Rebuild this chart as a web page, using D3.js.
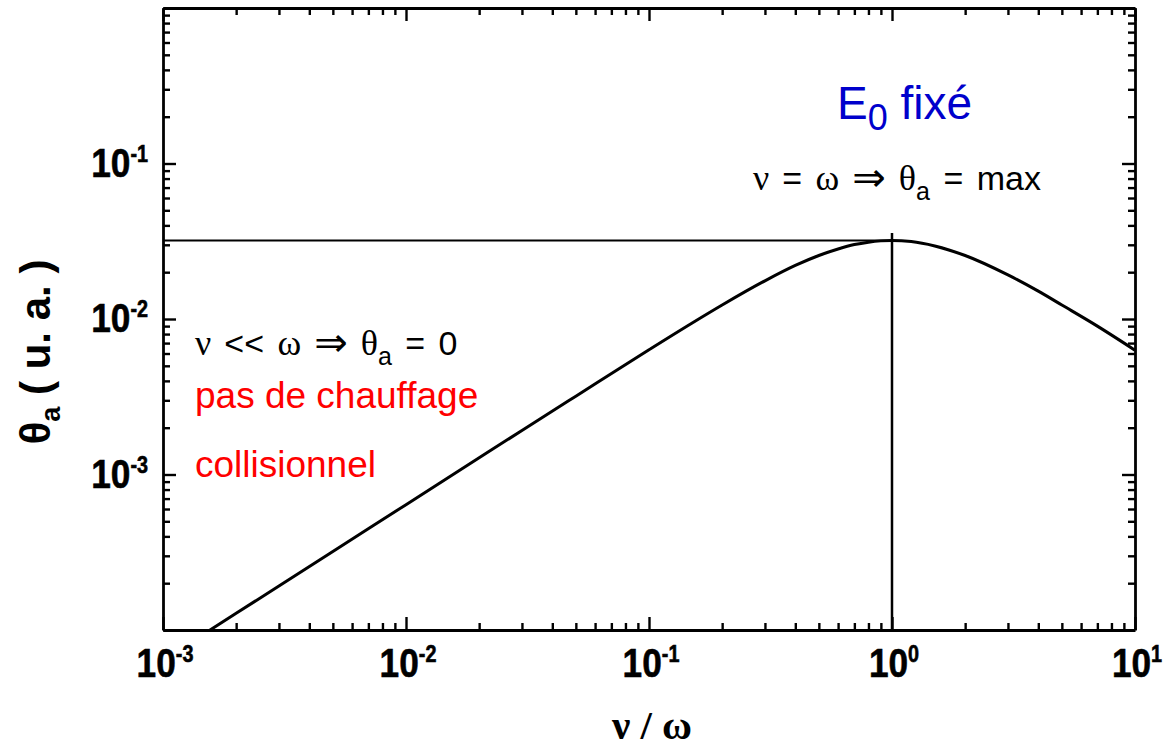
<!DOCTYPE html>
<html>
<head>
<meta charset="utf-8">
<script src="https://cdn.jsdelivr.net/npm/d3@7/dist/d3.min.js"></script>
<style>
  body { margin: 0; background: #fff; }
  svg text { font-family: "Liberation Sans", Arial, sans-serif; }
  .greek { font-family: "Liberation Serif", "DejaVu Serif", serif; }
  .arrow { font-family: "DejaVu Sans", sans-serif; }
</style>
</head>
<body>
<div class="chart"></div>
<script>
// curve (nu/omega, theta_a)
const nuOverOmega = [0.0015, 0.002, 0.003, 0.005, 0.01, 0.02, 0.03, 0.05, 0.1, 0.15, 0.2, 0.3, 0.4, 0.5,
  0.6, 0.7, 0.8, 0.9, 1, 1.2, 1.5, 2, 3, 4, 5, 7, 10];
const thetaA = [0.000096, 0.000128, 0.000192, 0.00032, 0.00064, 0.00128, 0.00192, 0.00319, 0.00634, 0.00939,
  0.0123, 0.0176, 0.0221, 0.0256, 0.0282, 0.0301, 0.0312, 0.0318, 0.032, 0.0315, 0.0295, 0.0256, 0.0192,
  0.0151, 0.0123, 0.0090, 0.0063];
// reference lines at the maximum
const peakNu = 1;
const peakTheta = 0.032;
const peakLineTop = 0.0357;
// axes
const xDomain = [1e-3, 10];
const yDomain = [1e-4, 1];
const xExponents = [-3, -2, -1, 0, 1];
const yExponents = [-3, -2, -1];

const width = 1166, height = 747;
const margin = { top: 8, right: 31, bottom: 117, left: 163 };
const plotW = width - margin.left - margin.right;
const plotH = height - margin.top - margin.bottom;

const svg = d3.select('.chart').append('svg')
  .attr('width', width).attr('height', height);
const g = svg.append('g').attr('transform', `translate(${margin.left},${margin.top})`);

const x = d3.scaleLog().domain(xDomain).range([0, plotW]);
const y = d3.scaleLog().domain(yDomain).range([plotH, 0]);

const isMajor = d => Math.abs(Math.log10(d) - Math.round(Math.log10(d))) < 1e-6;
const majorLen = 13, minorLen = 7;

// curve, clipped to the frame
g.append('clipPath').attr('id', 'plotclip')
  .append('rect').attr('width', plotW).attr('height', plotH);

const curveData = nuOverOmega.map((v, i) => ({ x: v, y: thetaA[i] }));
const line = d3.line().x(d => x(d.x)).y(d => y(d.y)).curve(d3.curveMonotoneX);
g.append('path').datum(curveData)
  .attr('clip-path', 'url(#plotclip)')
  .attr('d', line)
  .attr('fill', 'none').attr('stroke', '#000').attr('stroke-width', 3);

// maximum markers
g.append('line')
  .attr('x1', x(xDomain[0])).attr('x2', x(peakNu))
  .attr('y1', y(peakTheta)).attr('y2', y(peakTheta))
  .attr('stroke', '#000').attr('stroke-width', 2);
g.append('line')
  .attr('x1', x(peakNu)).attr('x2', x(peakNu))
  .attr('y1', y(yDomain[0])).attr('y2', y(peakLineTop))
  .attr('stroke', '#000').attr('stroke-width', 2.5);

// frame with inward ticks on every side
function styleAxis(sel, attr, sign) {
  sel.select('.domain').attr('stroke-width', 2.8);
  sel.selectAll('.tick line')
    .attr('stroke-width', 2.4)
    .attr(attr, d => sign * (isMajor(d) ? majorLen : minorLen));
  sel.selectAll('.tick text').remove();
}
const xTicks = x.ticks();
const yTicks = y.ticks();
g.append('g').attr('transform', `translate(0,${plotH})`)
  .call(d3.axisBottom(x).tickValues(xTicks).tickSizeOuter(0))
  .call(s => styleAxis(s, 'y2', -1));
g.append('g')
  .call(d3.axisTop(x).tickValues(xTicks).tickSizeOuter(0))
  .call(s => styleAxis(s, 'y2', 1));
g.append('g')
  .call(d3.axisLeft(y).tickValues(yTicks).tickSizeOuter(0))
  .call(s => styleAxis(s, 'x2', 1));
g.append('g').attr('transform', `translate(${plotW},0)`)
  .call(d3.axisRight(y).tickValues(yTicks).tickSizeOuter(0))
  .call(s => styleAxis(s, 'x2', -1));

// power-of-ten tick labels (bold, slightly condensed)
function powerLabel(parent, px, py, exp, anchor) {
  const t = parent.append('g').attr('transform', `translate(${px},${py}) scale(0.86,1)`)
    .append('text')
    .attr('text-anchor', anchor)
    .attr('font-weight', 'bold').attr('font-size', 41)
    .attr('stroke', '#000').attr('stroke-width', 0.6);
  t.append('tspan').text('10');
  t.append('tspan').attr('font-size', 23).attr('dy', -15).text(exp);
}
xExponents.forEach(e => powerLabel(g, x(Math.pow(10, e)) + 2, plotH + 47, e, 'middle'));
yExponents.forEach(e => powerLabel(g, -15, y(Math.pow(10, e)) + 13, e, 'end'));

// axis titles
svg.append('text')
  .attr('class', 'greek')
  .attr('x', 652).attr('y', 739)
  .attr('text-anchor', 'middle')
  .attr('font-weight', 'bold').attr('font-size', 41)
  .text('ν / ω');

const yTitle = svg.append('text')
  .attr('transform', 'translate(50,352) rotate(-90)')
  .attr('text-anchor', 'middle')
  .attr('font-weight', 'bold').attr('font-size', 42);
yTitle.append('tspan').text('θ');
yTitle.append('tspan').attr('font-size', 27).attr('dy', 10).text('a');
yTitle.append('tspan').attr('dy', -10).text('\u00a0( u. a. )');

// annotations
const ann = g.append('g');
const eTitle = ann.append('text')
  .attr('x', 837 - margin.left).attr('y', 119 - margin.top)
  .attr('fill', '#0000cc').attr('font-size', 46);
eTitle.append('tspan').text('E');
eTitle.append('tspan').attr('font-size', 36).attr('dy', 11).text('0');
eTitle.append('tspan').attr('dy', -11).text(' fixé');

function relation(px, py, lhs, rhs) {
  const t = ann.append('text').attr('x', px - margin.left).attr('y', py - margin.top)
    .attr('font-size', 34).attr('fill', '#000').attr('word-spacing', 4);
  t.append('tspan').attr('class', 'greek').attr('font-size', 36).text('ν ');
  t.append('tspan').text(lhs + ' ');
  t.append('tspan').attr('class', 'greek').attr('font-size', 36).text('ω ');
  t.append('tspan').attr('class', 'arrow').attr('font-size', 40).attr('dy', 1).text('⇒');
  t.append('tspan').attr('class', 'greek').attr('font-size', 36).attr('dy', -1).text(' θ');
  t.append('tspan').attr('font-size', 25).attr('dy', 10).text('a');
  t.append('tspan').attr('dy', -10).text(rhs);
}
relation(753, 190, '=', ' = max');
relation(195, 355, '<<', ' = 0');

ann.append('text').attr('x', 195 - margin.left).attr('y', 408 - margin.top)
  .attr('fill', '#ff0000').attr('font-size', 37).text('pas de chauffage');
ann.append('text').attr('x', 195 - margin.left).attr('y', 477 - margin.top)
  .attr('fill', '#ff0000').attr('font-size', 37).text('collisionnel');
</script>
</body>
</html>
